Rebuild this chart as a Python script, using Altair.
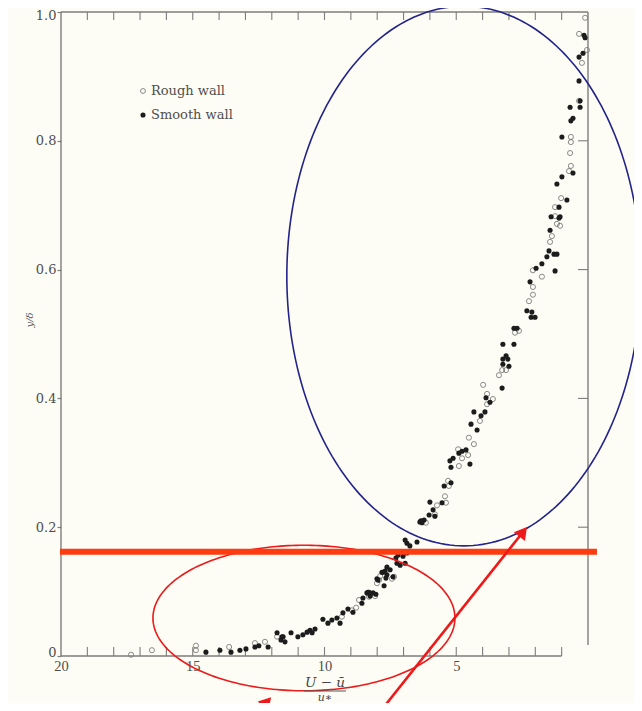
import altair as alt
import pandas as pd
import numpy as np

# ---------------- data ----------------
series_names = ["Rough wall", "Smooth wall"]

rough_x = [17.34, 16.55, 14.88, 14.88, 13.62, 12.64, 12.26, 11.80, 9.34, 8.96, 8.80, 8.69, 8.31,
           7.93, 7.36, 7.89, 7.44, 8.01, 8.08, 6.15, 5.73, 5.81, 5.43, 5.39, 5.31, 5.28, 4.93,
           4.55, 4.78, 4.90, 4.52, 4.33, 4.10, 3.98, 3.83, 3.61, 3.83, 3.11, 3.26, 3.38, 2.77,
           2.62, 2.09, 2.09, 2.24, 2.09, 1.75, 1.25, 1.18, 1.06, 1.37, 1.44, 1.02, 1.25, 0.65,
           0.72, 0.65, 0.65, 0.68, 0.34, 0.23, 0.04, 0.34, 0.11]
rough_y = [0.002, 0.009, 0.016, 0.009, 0.014, 0.020, 0.022, 0.030, 0.061, 0.071, 0.075, 0.087,
           0.092, 0.118, 0.123, 0.124, 0.120, 0.113, 0.093, 0.207, 0.234, 0.220, 0.248, 0.238,
           0.272, 0.264, 0.321, 0.312, 0.307, 0.295, 0.339, 0.329, 0.365, 0.421, 0.407, 0.399,
           0.391, 0.444, 0.444, 0.436, 0.502, 0.505, 0.573, 0.561, 0.551, 0.599, 0.589, 0.683,
           0.671, 0.668, 0.652, 0.643, 0.711, 0.697, 0.761, 0.753, 0.806, 0.798, 0.781, 0.862,
           0.921, 0.941, 0.966, 0.991]

smooth_x = [14.50, 13.97, 13.55, 13.21, 12.98, 12.64, 12.49, 12.14, 11.80, 11.61, 11.65, 11.50,
            11.57, 11.27, 11.01, 10.82, 10.66, 10.55, 10.47, 10.36, 10.06, 9.87, 9.72, 9.53,
            9.41, 9.30, 9.11, 8.92, 8.58, 8.54, 8.39, 8.31, 8.05, 8.01, 7.82, 7.70, 7.63, 7.74,
            7.25, 7.13, 6.94, 7.02, 6.87, 6.76, 6.49, 6.87, 6.94, 7.21, 7.29, 7.63, 7.51, 7.78,
            7.40, 7.67, 7.97, 8.35, 8.16, 8.27, 6.38, 6.30, 6.22, 6.34, 6.00, 5.88, 6.03, 5.81,
            5.54, 5.46, 5.20, 5.24, 5.20, 5.12, 4.90, 4.78, 4.63, 4.48, 4.44, 4.21, 4.33, 3.91,
            4.06, 3.87, 3.72, 3.26, 3.11, 3.23, 3.04, 3.23, 3.00, 3.23, 2.81, 2.81, 2.69, 2.32,
            2.13, 2.16, 2.01, 2.20, 1.97, 1.75, 1.25, 1.56, 1.48, 1.29, 1.18, 1.44, 1.40, 1.06,
            1.10, 0.80, 1.18, 0.99, 0.57, 0.99, 0.57, 0.65, 0.68, 0.30, 0.30, 0.34, 0.19, 0.34,
            0.15, 0.11, 1.10]
smooth_y = [0.006, 0.009, 0.006, 0.009, 0.011, 0.014, 0.016, 0.014, 0.036, 0.030, 0.025, 0.022,
            0.030, 0.036, 0.030, 0.033, 0.037, 0.040, 0.036, 0.042, 0.057, 0.051, 0.056, 0.059,
            0.051, 0.067, 0.073, 0.068, 0.082, 0.090, 0.098, 0.099, 0.096, 0.120, 0.130, 0.132,
            0.126, 0.109, 0.144, 0.141, 0.144, 0.155, 0.160, 0.171, 0.177, 0.175, 0.180, 0.157,
            0.152, 0.138, 0.134, 0.130, 0.123, 0.121, 0.118, 0.099, 0.098, 0.093, 0.208, 0.207,
            0.211, 0.210, 0.239, 0.227, 0.219, 0.217, 0.238, 0.264, 0.269, 0.303, 0.293, 0.307,
            0.315, 0.318, 0.320, 0.298, 0.360, 0.351, 0.379, 0.379, 0.373, 0.401, 0.394, 0.416,
            0.466, 0.461, 0.461, 0.453, 0.450, 0.484, 0.484, 0.509, 0.509, 0.536, 0.534, 0.526,
            0.526, 0.581, 0.602, 0.609, 0.598, 0.620, 0.629, 0.624, 0.624, 0.661, 0.682, 0.682,
            0.697, 0.708, 0.733, 0.744, 0.750, 0.806, 0.835, 0.831, 0.852, 0.852, 0.862, 0.893,
            0.936, 0.930, 0.964, 0.960, 0.680]

x_tick_labels = [20, 15, 10, 5]
y_tick_values = [0, 0.2, 0.4, 0.6, 0.8, 1.0]
minor_x_ticks = list(range(1, 20))
right_y_ticks = [0.2, 0.4, 0.6, 0.8]

# annotations (data units)
threshold_y = 0.162
blue_ellipse = dict(cx=4.71, cy=0.590, rx=6.72, ry=0.419)
red_ellipse = dict(cx=10.78, cy=0.059, rx=5.73, ry=0.113)
arrow_x = [7.86, 12.56]
arrow_y = [-0.085, -0.085]
arrow_x2 = [2.46, 12.18]
arrow_y2 = [0.193, -0.071]
arrow_angle = [38, 42]

# ---------------- styling ----------------
W, H = 527, 644
BG = "#fdfdf6"
AX = "#7d7d7d"
TXT = "#4e4e4e"
RED = "#ec1a1a"
ORANGE = "#ff3b10"
BLUE = "#23238c"

xs = alt.Scale(domain=[0, 20], reverse=True, nice=False, zero=False)
ys = alt.Scale(domain=[0, 1], nice=False, zero=False)


def X(field):
    return alt.X(field, scale=xs, title=None)


def Y(field):
    return alt.Y(field, scale=ys, title=None)


rough = pd.DataFrame({"x": rough_x, "y": rough_y, "series": series_names[0]})
smooth = pd.DataFrame({"x": smooth_x, "y": smooth_y, "series": series_names[1]})

rough_layer = alt.Chart(rough).mark_point(
    shape="circle", filled=False, size=26, strokeWidth=0.9, color="#484848"
).encode(
    x=alt.X("x:Q", scale=xs, title=None, axis=alt.Axis(values=x_tick_labels)),
    y=alt.Y("y:Q", scale=ys, title=None, axis=alt.Axis(
        values=y_tick_values,
        labelExpr="datum.value == 0 ? '0' : format(datum.value, '.1f')")),
)

smooth_layer = alt.Chart(smooth).mark_point(
    shape="circle", filled=True, size=26, color="#1c1c1c", opacity=1
).encode(x=X("x:Q"), y=Y("y:Q"))

# frame
frame = pd.DataFrame({
    "x": [20, 20, 0, 20], "x2": [20, 0, 0, 1.0],
    "y": [0, 1, 1, 0], "y2": [1, 1, 0.017, 0],
})
frame_layer = alt.Chart(frame).mark_rule(color=AX, strokeWidth=1.4).encode(
    x=X("x:Q"), x2="x2:Q", y=Y("y:Q"), y2="y2:Q")

bt = pd.DataFrame({"x": minor_x_ticks, "y": 0.0, "y2": 0.014})
tt = pd.DataFrame({"x": minor_x_ticks, "y": 1.0, "y2": 1 - 0.0125})
tick_layers = []
for d in (bt, tt):
    tick_layers.append(alt.Chart(d).mark_rule(color=AX, strokeWidth=1.1).encode(
        x=X("x:Q"), y=Y("y:Q"), y2="y2:Q"))
rt = pd.DataFrame({"y": right_y_ticks, "x": 0.0, "x2": 0.38})
tick_layers.append(alt.Chart(rt).mark_rule(color=AX, strokeWidth=1.1).encode(
    x=X("x:Q"), x2="x2:Q", y=Y("y:Q")))

# ellipses
t = np.linspace(0, 2 * np.pi, 241)


def ellipse_df(e):
    return pd.DataFrame({"i": np.arange(len(t)),
                         "x": e["cx"] + e["rx"] * np.cos(t),
                         "y": e["cy"] + e["ry"] * np.sin(t)})


blue_layer = alt.Chart(ellipse_df(blue_ellipse)).mark_line(
    color=BLUE, strokeWidth=1.6, clip=False).encode(
    x=X("x:Q"), y=Y("y:Q"), order="i:Q")
red_layer = alt.Chart(ellipse_df(red_ellipse)).mark_line(
    color=RED, strokeWidth=1.6, clip=False).encode(
    x=X("x:Q"), y=Y("y:Q"), order="i:Q")

# threshold line
thr = pd.DataFrame({"y": [threshold_y], "x": [20.04], "x2": [-0.34]})
thr_layer = alt.Chart(thr).mark_rule(color=ORANGE, strokeWidth=6).encode(
    x=X("x:Q"), x2="x2:Q", y=Y("y:Q"))

# arrows
arr = pd.DataFrame({"x": arrow_x, "y": arrow_y, "x2": arrow_x2, "y2": arrow_y2,
                    "angle": arrow_angle})
arrow_lines = alt.Chart(arr).mark_rule(color=RED, strokeWidth=2.6).encode(
    x=X("x:Q"), x2="x2:Q", y=Y("y:Q"), y2="y2:Q")
arrow_heads = alt.Chart(arr).mark_point(
    shape="triangle-up", filled=True, size=200, color=RED, opacity=1).encode(
    x=X("x2:Q"), y=Y("y2:Q"), angle=alt.Angle("angle:Q", scale=None))

# legend (drawn by hand, like the original)
leg_open = alt.Chart(pd.DataFrame({"label": [series_names[0]]})).mark_point(
    shape="circle", filled=False, size=24, strokeWidth=0.9, color="#484848").encode(
    x=alt.value(82), y=alt.value(79))
leg_fill = alt.Chart(pd.DataFrame({"label": [series_names[1]]})).mark_point(
    shape="circle", filled=True, size=26, color="#1c1c1c", opacity=1).encode(
    x=alt.value(82), y=alt.value(103))
leg_text = []
for lab, yy in ((series_names[0], 79), (series_names[1], 103)):
    leg_text.append(alt.Chart(pd.DataFrame({"label": [lab]})).mark_text(
        align="left", baseline="middle", font="DejaVu Serif", fontSize=13, color=TXT).encode(
        x=alt.value(90), y=alt.value(yy), text="label:N"))

# axis titles
one = pd.DataFrame({"a": [0]})
xt_top = alt.Chart(one).mark_text(
    text="U − ū", font="DejaVu Serif", fontStyle="italic", fontSize=13.5,
    color="#444444", align="center", baseline="middle").encode(
    x=alt.value(264), y=alt.value(671))
xt_bar = alt.Chart(one).mark_rule(color="#555555", strokeWidth=1).encode(
    x=alt.value(243), x2=alt.value(285), y=alt.value(679))
xt_bot = alt.Chart(one).mark_text(
    text="u∗", font="DejaVu Serif", fontStyle="italic", fontSize=11,
    color="#444444", align="center", baseline="alphabetic").encode(
    x=alt.value(264), y=alt.value(689))
yt = alt.Chart(one).mark_text(
    text="y/δ", font="DejaVu Serif", fontStyle="italic", fontSize=10,
    color="#555555", align="center", baseline="middle", angle=270).encode(
    x=alt.value(-31), y=alt.value(308))

chart = alt.layer(
    rough_layer, frame_layer, *tick_layers, smooth_layer,
    blue_layer, red_layer, thr_layer, arrow_lines, arrow_heads,
    leg_open, leg_fill, *leg_text, xt_top, xt_bar, xt_bot, yt,
).properties(
    width=W, height=H,
    padding={"left": 53, "top": 4, "right": 46, "bottom": 47},
    autosize=alt.AutoSizeParams(type="none"),
    background=BG,
).configure_view(
    stroke=None
).configure_axisX(
    ticks=False, domain=False, grid=False,
    labelFont="Liberation Serif", labelFontSize=14.5, labelColor=TXT,
    labelPadding=3, labelFlush=False,
).configure_axisY(
    tickSize=4, tickColor=AX, tickWidth=1.2, domain=False, grid=False,
    labelFont="DejaVu Serif", labelFontSize=13, labelColor=TXT,
    labelPadding=1, labelFlush=True, labelFlushOffset=3,
)

chart.save("out.html", embed_options={"renderer": "svg", "actions": False})
